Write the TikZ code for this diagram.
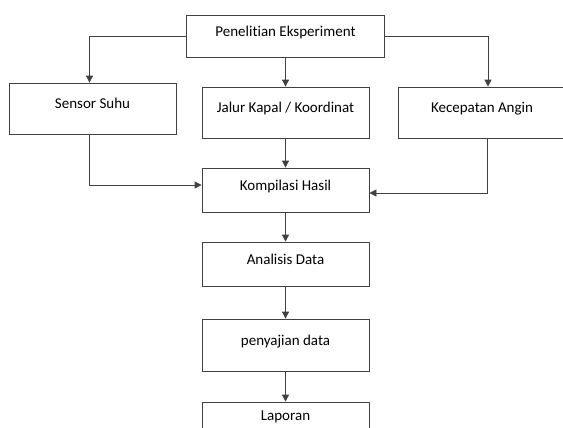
\documentclass[tikz,border=0pt]{standalone}
\usepackage{fontspec}
\setmainfont[Ligatures=CommonOff]{Carlito}
\usetikzlibrary{arrows.meta}

\begin{document}
\begin{tikzpicture}[x=1bp,y=-1bp,
  box/.style={draw=black!75,line width=0.8bp,rectangle,minimum width=167bp,minimum height=51bp,
    text height=5bp,text depth=5bp,font=\fontsize{15bp}{18bp}\selectfont},
  flow/.style={draw=black!75,line width=0.8bp,-{Triangle[length=7bp,width=7bp]}}]
\useasboundingbox (0,0) rectangle (563,427);
\clip (0,0) rectangle (563,427);
\node [box,minimum width=198bp,minimum height=42bp] (pe) at (285.5,36) {Penelitian Eksperiment};
\node [box] (ss) at (92.5,108.5) {Sensor Suhu};
\node [box] (jk) at (285.5,112.5) {Jalur Kapal / Koordinat};
\node [box] (ka) at (482,112.5) {Kecepatan Angin};
\node [box,minimum height=44bp] (kh) at (285.5,190) {Kompilasi Hasil};
\node [box,minimum height=44bp] (ad) at (285.5,264) {Analisis Data};
\node [box,minimum height=52bp] (pd) at (285.5,345) {penyajian data};
\node [box,minimum height=36bp] (lp) at (285.5,420) {Laporan};
% cabang dari atas
\draw [flow] (pe.west) -| ([xshift=-3bp]ss.north);
\draw [flow] (pe.south) -- (jk.north);
\draw [flow] (pe.east) -| ([xshift=6bp]ka.north);
% menuju kompilasi
\draw [flow] ([xshift=-3bp]ss.south) |- ([yshift=5bp]kh.west);
\draw [flow] (jk.south) -- (kh.north);
\draw [flow] ([xshift=5bp]ka.south) |- ([yshift=-3bp]kh.east);
\draw [flow] (kh.south) -- (ad.north);
\draw [flow] (ad.south) -- (pd.north);
\draw [flow] (pd.south) -- (lp.north);
\end{tikzpicture}
\end{document}
